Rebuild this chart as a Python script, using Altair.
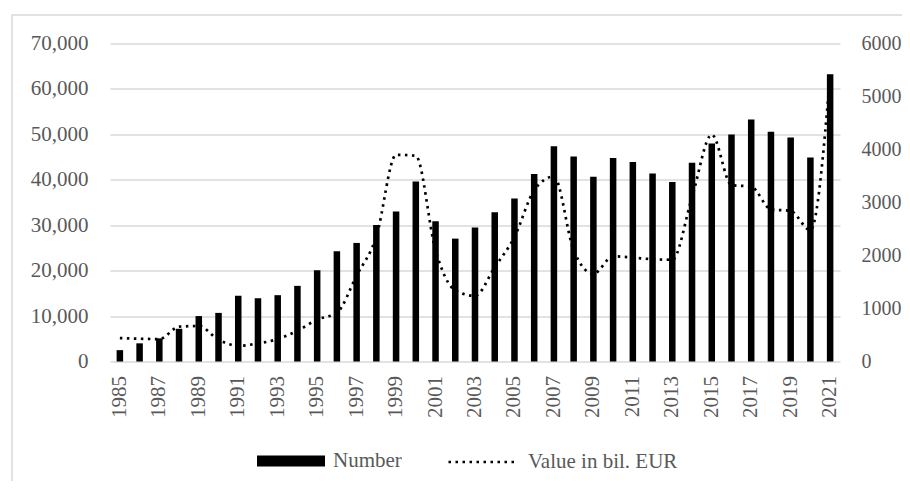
import altair as alt
import pandas as pd

years = list(range(1985, 2022))
number = [2500, 4000, 5100, 7200, 10000, 10700, 14500, 13900, 14600, 16650, 20100, 24250,
          26100, 30070, 33000, 39650, 30900, 27050, 29500, 32870, 35900, 41270, 47400, 45100,
          40680, 44800, 43900, 41400, 39500, 43770, 47970, 49960, 53280, 50550, 49300, 44880, 63230]
value_bil = [442, 430, 423, 657, 670, 410, 297, 340, 423, 580, 790, 922,
             1620, 2360, 3900, 3880, 2100, 1340, 1240, 1780, 2350, 3230, 3490, 2100,
             1655, 1985, 1960, 1930, 1920, 3100, 4280, 3330, 3300, 2870, 2840, 2480, 5410]
label_years = [y for y in years if y % 2 == 1]
left_ticks = list(range(0, 70001, 10000))
right_ticks = list(range(0, 6001, 1000))

df = pd.DataFrame({
    "year": years,
    "number": number,
    "value": value_bil,
    "s1": ["Number"] * len(years),
    "s2": ["Value in bil. EUR"] * len(years),
})

FONT = "Liberation Serif"
GRAY = "#595959"
GRID = "#d9d9d9"

x = alt.X("year:O", title=None,
          scale=alt.Scale(paddingInner=0.67, paddingOuter=0.335),
          axis=alt.Axis(values=label_years, labelAngle=-90, ticks=False, domain=False,
                        labelPadding=14, labelFont=FONT, labelFontSize=21, labelColor=GRAY))

bars = alt.Chart(df).mark_bar().encode(
    x=x,
    y=alt.Y("number:Q", title=None,
            scale=alt.Scale(domain=[0, 70000], nice=False),
            axis=alt.Axis(values=left_ticks, format=",.0f", ticks=False, domain=False,
                          grid=True, gridColor=GRID, gridWidth=1.3,
                          labelPadding=22, labelFont=FONT, labelFontSize=21, labelColor=GRAY)),
    color=alt.Color("s1:N", scale=alt.Scale(range=["#000000"]),
                    legend=alt.Legend(title=None, orient="none", legendX=147, legendY=383.5,
                                      symbolType="M-1,-0.162H1V0.162H-1Z", symbolSize=4624,
                                      symbolStrokeWidth=0, padding=0, labelOffset=8,
                                      labelFont=FONT, labelFontSize=21, labelColor=GRAY)),
)

line = alt.Chart(df).mark_line(strokeDash=[2.5, 4.5], strokeWidth=2.7,
                               interpolate="monotone").encode(
    x=x,
    y=alt.Y("value:Q", title=None,
            scale=alt.Scale(domain=[0, 6000], nice=False),
            axis=alt.Axis(values=right_ticks, orient="right", format="d", ticks=False,
                          domain=False, grid=False,
                          labelPadding=21, labelFont=FONT, labelFontSize=20, labelColor=GRAY)),
    stroke=alt.Stroke("s2:N", scale=alt.Scale(range=["#000000"]),
                      legend=alt.Legend(title=None, orient="none", legendX=337, legendY=384,
                                        symbolType="stroke", symbolSize=4356,
                                        symbolDash=[2.5, 4.5], symbolStrokeWidth=2.7,
                                        padding=0, labelOffset=12,
                                        labelFont=FONT, labelFontSize=21, labelColor=GRAY)),
)

border = alt.Chart(alt.Data(values=[{"a": 1}])).mark_rect(
    fill="white", fillOpacity=0, stroke=GRID, strokeWidth=1.5
).encode(
    x=alt.value(-98), x2=alt.value(1000), y=alt.value(-28.5), y2=alt.value(1000)
)

chart = alt.layer(border, bars, line).resolve_scale(
    y="independent", color="independent"
).properties(
    width=730, height=318,
    autosize=alt.AutoSizeParams(type="none"),
    padding={"left": 102, "top": 35.5, "right": 62, "bottom": 119},
).configure_view(stroke=None)

chart.save("out.html", embed_options={"renderer": "svg", "actions": False})
